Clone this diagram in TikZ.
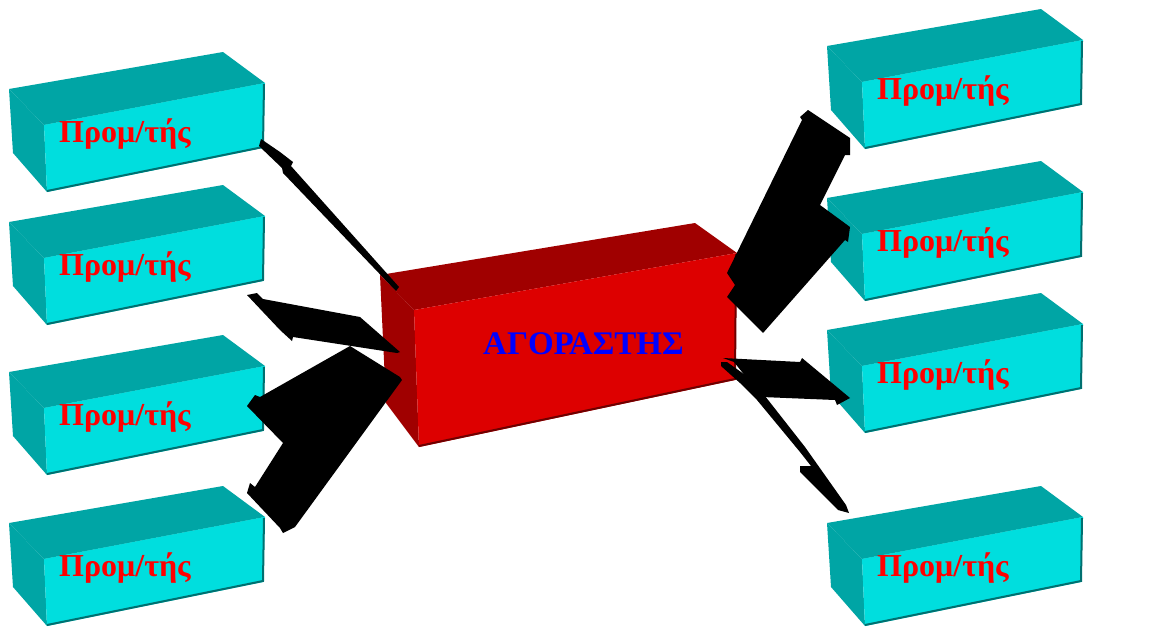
\documentclass[tikz,border=0pt]{standalone}
\usepackage{fontspec}
\setmainfont{Liberation Serif}
\definecolor{cyfront}{RGB}{0,222,222}
\definecolor{cyside}{RGB}{0,165,165}
\definecolor{cyedge}{RGB}{0,112,112}
\definecolor{rdfront}{RGB}{221,0,0}
\definecolor{rdside}{RGB}{160,0,0}
\definecolor{rdedge}{RGB}{110,0,0}
\definecolor{txtred}{RGB}{255,0,0}
\definecolor{txtblue}{RGB}{0,0,255}
\begin{document}
\begin{tikzpicture}[x=1pt,y=-1pt,
  suplabel/.style={anchor=base west,inner sep=0pt,text=txtred,
    font=\fontsize{32}{38}\selectfont\bfseries},
  buyerlabel/.style={anchor=base west,inner sep=0pt,text=txtblue,
    font=\fontsize{33}{39}\selectfont\bfseries},
  arrowfill/.style={fill=black},
  supplier/.pic={
    % left face, top face, front face
    \fill[cyside] (44,125)--(9,89)--(13,153)--(47,192)--cycle;
    \fill[cyside] (9,89)--(223,52)--(265,83)--(44,125)--cycle;
    \fill[cyside!85!cyfront] (44,125)--(265,83)--(262,86)--(46,127)--cycle;
    \fill[cyfront] (44,125)--(265,83)--(263,148)--(47,192)--cycle;
    \draw[cyedge,line width=2pt] (47,191)--(263,147)--(264,84);
    \node[suplabel] (-txt) at (59,142) {Προμ/τής};
  }]
\useasboundingbox (0,0) rectangle (1156,630);
\fill[white] (0,0) rectangle (1156,630);

% suppliers on the left
\pic (L1) at (0,0)   {supplier};
\pic (L2) at (0,133) {supplier};
\pic (L3) at (0,283) {supplier};
\pic (L4) at (0,434) {supplier};
% suppliers on the right
\pic (R1) at (818,-43) {supplier};
\pic (R2) at (818,109) {supplier};
\pic (R3) at (818,241) {supplier};
\pic (R4) at (818,434) {supplier};

% the buyer
\fill[rdside] (414,310)--(380,275)--(386,403)--(419,447)--cycle;
\fill[rdside] (380,275)--(695,223)--(737,253)--(414,310)--cycle;
\fill[rdfront] (414,310)--(737,253)--(735,380)--(419,447)--cycle;
\draw[rdedge,line width=2pt] (419,446)--(735,379)--(736,254);
\node[buyerlabel] (buyer) at (483,354) {ΑΓΟΡΑΣΤΗΣ};

% arrows, left side
\fill[arrowfill] (261,139)--(280,152)--(293,162)--(291,166)--(399,287)
  --(396,291)--(283,173)--(282,168)--(259,146)--cycle;
\fill[arrowfill] (247,295)--(257,293)--(263,299)--(360,317)--(400,352)
  --(397,353)--(293,337)--(292,341)--(280,330)--cycle;
\fill[arrowfill] (247,406)--(255,395)--(260,397)--(350,346)--(400,377)
  --(402,380)--(295,527)--(283,533)--(280,528)--(247,493)--(250,483)
  --(255,487)--(283,443)--cycle;

% arrows, right side
\fill[arrowfill] (800,117)--(808,110)--(850,138)--(850,155)--(845,155)
  --(820,205)--(850,227)--(848,242)--(845,240)--(763,333)--(727,297)
  --(735,285)--(727,273)--(802,120)--cycle;
\fill[arrowfill] (723,358)--(800,362)--(802,358)--(850,398)--(837,405)
  --(835,400)--(762,397)--(734,362)--cycle;
\fill[arrowfill] (721,362)--(727,362)--(748,377)--(765,396)--(805,447)
  --(846,505)--(849,513)--(838,510)--(800,472)--(800,466)--(811,466)
  --(800,452)--(757,400)--(740,383)--(721,366)--cycle;
\end{tikzpicture}
\end{document}
